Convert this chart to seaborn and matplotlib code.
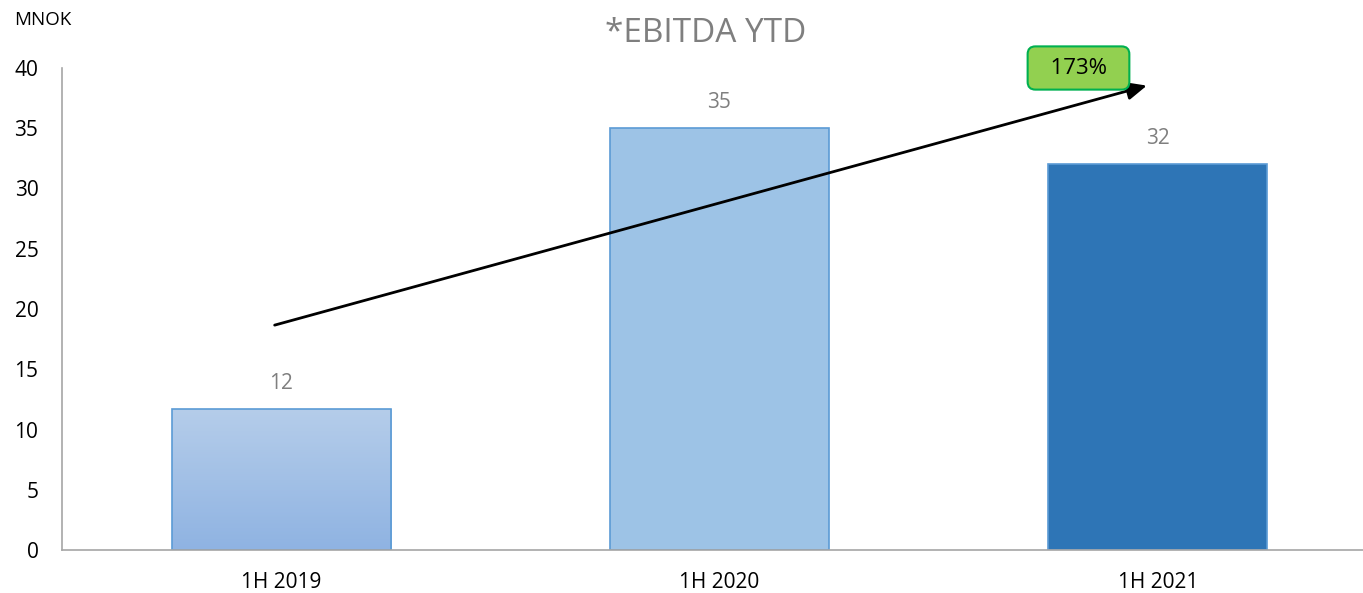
import numpy as np
import pandas as pd
import matplotlib
matplotlib.use("Agg")
import matplotlib.pyplot as plt
import seaborn as sns
from matplotlib.colors import LinearSegmentedColormap

categories = ["1H 2019", "1H 2020", "1H 2021"]
values = [11.7, 35.0, 32.0]
value_labels = ["12", "35", "32"]
bar_colors = ["#A9C5E8", "#9DC3E6", "#2E75B6"]
growth_label = "173%"

sns.set_theme(style="white")
plt.rcParams['font.family'] = ['Open Sans', 'DejaVu Sans']

fig = plt.figure(figsize=(13.63, 5.93), dpi=100)
ax = fig.add_axes([62/1363, 43/593, (1363-62)/1363, (550-68)/593])

df = pd.DataFrame({"cat": categories, "val": values})
sns.barplot(data=df, x="cat", y="val", hue="cat", palette=bar_colors,
            width=0.5, dodge=False, legend=False, ax=ax,
            edgecolor="#5B9BD5", linewidth=1.2, saturation=1)

# gradient on the first bar
p0 = ax.patches[0]
x0, y0 = p0.get_x(), p0.get_y()
w0, h0 = p0.get_width(), p0.get_height()
cmap = LinearSegmentedColormap.from_list("g", ["#8FB3E2", "#B5CDEA"])
grad = np.linspace(0, 1, 256).reshape(-1, 1)
im = ax.imshow(grad, cmap=cmap, extent=[x0, x0 + w0, y0, y0 + h0],
               origin="lower", aspect="auto", zorder=p0.get_zorder() + 0.1)
im.set_clip_path(p0)
p0.set_facecolor("none")
p0.set_zorder(p0.get_zorder() + 0.2)

ax.set_xlim(-0.5, 2.5 - (1377 - 1363) / 438.5)
ax.set_ylim(0, 40)
ax.set_yticks(np.arange(0, 41, 5))
ax.set_xlabel("")
ax.set_ylabel("")

for s in ["top", "right"]:
    ax.spines[s].set_visible(False)
for s in ["left", "bottom"]:
    ax.spines[s].set_color("#A6A6A6")
    ax.spines[s].set_linewidth(1.2)
ax.tick_params(axis="y", length=0, pad=17, labelsize=15, labelcolor="black")
ax.tick_params(axis="x", length=0, pad=16, labelsize=15, labelcolor="black")

for i, (v, lab) in enumerate(zip(values, value_labels)):
    ax.annotate(lab, (i, v), xytext=(0, 11), textcoords="offset points",
                ha="center", va="bottom", fontsize=15, color="#7F7F7F")

fig.text(706/1363, 1 - 33/593, "*EBITDA YTD", ha="center", va="center",
         fontsize=24, color="#7F7F7F")
fig.text(14/1363, 1 - 20/593, "MNOK", ha="left", va="center",
         fontsize=13.5, color="black")

ax.annotate("", xy=(1.981, 38.6), xytext=(-0.021, 18.6),
            arrowprops=dict(arrowstyle="-|>,head_length=1.0,head_width=0.45",
                            color="black", lw=2), zorder=10)
ax.text(1.819, 40.0, "  " + growth_label + "  ", ha="center", va="center",
        fontsize=16, color="black", zorder=11, clip_on=False,
        bbox=dict(boxstyle="round,pad=0.5,rounding_size=0.35",
                  fc="#92D050", ec="#00B050", lw=1.5))

fig.savefig("out.png", dpi=100)
